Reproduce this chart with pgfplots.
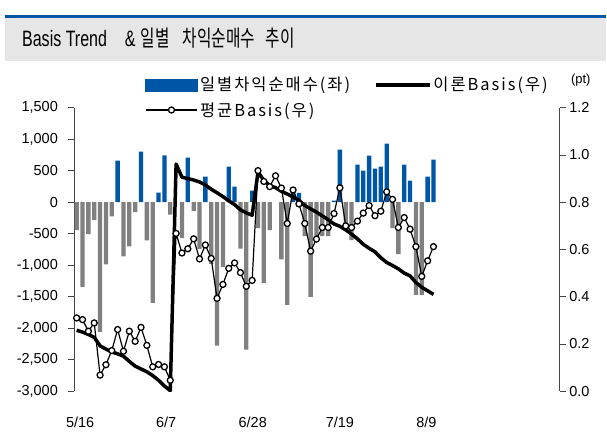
\documentclass[border=0pt]{standalone}
\usepackage{pgfplots}
\pgfplotsset{compat=1.18}
\usepackage{pgfplotstable}
\usepackage{fontspec}
\usepackage{graphicx}
\setmainfont{Liberation Sans}
\newfontfamily\kr{Noto Sans CJK KR}
\newfontfamily\krleg[LetterSpace=12]{Noto Sans CJK KR}
\definecolor{barblue}{RGB}{0,86,166}
\definecolor{bargray}{RGB}{128,128,128}
\definecolor{titlegray}{RGB}{230,230,230}
\definecolor{axisc}{RGB}{70,70,70}

\pgfplotstableread{
i theo avg
0 0.258 0.310
1 0.250 0.303
2 0.240 0.254
3 0.228 0.289
4 0.192 0.068
5 0.178 0.112
6 0.166 0.172
7 0.158 0.261
8 0.148 0.169
9 0.126 0.254
10 0.106 0.211
11 0.094 0.270
12 0.082 0.194
13 0.066 0.103
14 0.046 0.113
15 0.022 0.103
16 0.002 0.046
17 0.962 0.668
18 0.906 0.585
19 0.900 0.603
20 0.894 0.645
21 0.886 0.560
22 0.873 0.619
23 0.855 0.562
24 0.840 0.393
25 0.824 0.452
26 0.806 0.520
27 0.790 0.543
28 0.768 0.502
29 0.755 0.444
30 0.745 0.469
31 0.928 0.934
32 0.893 0.888
33 0.870 0.866
34 0.862 0.912
35 0.846 0.860
36 0.835 0.710
37 0.822 0.852
38 0.808 0.793
39 0.786 0.710
40 0.772 0.593
41 0.758 0.644
42 0.742 0.693
43 0.726 0.693
44 0.708 0.752
45 0.698 0.861
46 0.683 0.700
47 0.665 0.693
48 0.645 0.720
49 0.622 0.754
50 0.605 0.786
51 0.590 0.743
52 0.565 0.762
53 0.545 0.844
54 0.532 0.812
55 0.518 0.693
56 0.500 0.735
57 0.488 0.686
58 0.460 0.612
59 0.440 0.486
60 0.425 0.552
61 0.410 0.612
}\lines

\pgfplotsset{
  barleg/.style={legend image code/.code={\fill[barblue] (0pt,-6pt) rectangle (52pt,6pt);}},
  theoleg/.style={legend image code/.code={\draw[black, line width=3.5pt] (0pt,0pt) -- (54pt,0pt);}},
  avgleg/.style={legend image code/.code={\draw[black, line width=1.2pt, mark=*, mark size=3pt,
     mark options={fill=white, draw=black, line width=1.3pt}, mark repeat=2, mark phase=2]
     plot coordinates {(0pt,0pt) (26pt,0pt) (52pt,0pt)};}},
}

\begin{document}
\begin{tikzpicture}
\fill[white] (0pt,0pt) rectangle (607pt,432pt);
\fill[titlegray] (5pt,371pt) rectangle (607pt,414.5pt);
\draw[barblue, line width=2.6pt] (5pt,415.6pt) -- (607pt,415.6pt);
\node[anchor=base west, inner sep=0pt] at (22pt,385pt) {\scalebox{0.72}[1]{\fontsize{22.3}{26}\selectfont Basis Trend}};
\node[anchor=base west, inner sep=0pt] at (125pt,385pt) {\scalebox{0.72}[1]{\fontsize{22.3}{26}\selectfont \&}};
\node[anchor=base west, inner sep=0pt] at (141pt,385pt) {\scalebox{0.7}[1]{\kr\fontsize{22.5}{26}\selectfont 일별}};
\node[anchor=base west, inner sep=0pt] at (183pt,385pt) {\scalebox{0.7}[1]{\kr\fontsize{22.5}{26}\selectfont 차익순매수}};
\node[anchor=base west, inner sep=0pt] at (266pt,385pt) {\scalebox{0.7}[1]{\kr\fontsize{22.5}{26}\selectfont 추이}};
\node[font=\fontsize{13}{15}\selectfont, inner sep=0pt] at (582pt,352pt) {(pt)};

\begin{axis}[
  at={(74.5pt,40pt)}, anchor=south west,
  width=486.5pt, height=284pt, scale only axis,
  xmin=-0.4, xmax=82.6, ymin=-3000, ymax=1500,
  axis y line*=left, axis x line*=bottom,
  x axis line style={draw=none},
  y axis line style={draw=axisc, line width=0.8pt},
  xtick={0.6,15.3,30.1,45,59.8},
  xticklabels={5/16,6/7,6/28,7/19,8/9},
  major x tick style={draw=none},
  ytick={-3000,-2500,-2000,-1500,-1000,-500,0,500,1000,1500},
  yticklabels={{-3,000},{-2,500},{-2,000},{-1,500},{-1,000},{-500},{0},{500},{1,000},{1,500}},
  tick align=outside, major tick length=6pt,
  major y tick style={draw=axisc, line width=0.8pt},
  ticklabel style={font=\fontsize{14.5}{16}\selectfont},
  xticklabel style={yshift=-16pt},
  yticklabel style={xshift=-7pt},
]
\addplot[ybar, bar width=4.3pt, bar shift=0pt, fill=bargray, draw=none] coordinates {
(0,-443) (1,-1345) (2,-506) (3,-285) (4,-2057) (5,-986) (6,-226) (8,-859) (9,-701) (10,-158)
(12,-606) (13,-1598) (16,-195) (18,-570) (20,-142) (21,-740) (23,-980) (24,-2278) (25,-1025)
(28,-735) (29,-2342) (31,-411) (32,-1286) (33,-443) (35,-907) (36,-1630) (39,-540) (40,-1503)
(41,-633) (42,-540) (43,-540) (46,-411) (47,-601) (54,-411) (55,-823) (58,-1471) (59,-1471)};
\addplot[ybar, bar width=4.3pt, bar shift=0pt, fill=barblue, draw=none] coordinates {
(7,660) (11,802) (14,153) (15,744) (19,707) (22,407) (26,565) (27,248) (30,185) (37,185)
(38,150) (44,27) (45,834) (48,596) (49,502) (50,739) (51,534) (52,565) (53,929) (56,596)
(57,343) (60,407) (61,676)};
\end{axis}

\begin{axis}[
  at={(74.5pt,40pt)}, anchor=south west,
  width=486.5pt, height=284pt, scale only axis,
  xmin=-0.4, xmax=82.6, ymin=0, ymax=1.2,
  axis y line*=right, hide x axis,
  y axis line style={draw=axisc, line width=0.8pt},
  ytick={0,0.2,0.4,0.6,0.8,1.0,1.2},
  yticklabels={0.0,0.2,0.4,0.6,0.8,1.0,1.2},
  tick align=outside, major tick length=6pt,
  major y tick style={draw=axisc, line width=0.8pt},
  ticklabel style={font=\fontsize{14.5}{16}\selectfont},
  legend columns=2,
  legend cell align=left,
  legend style={at={(0.145,1.115)}, anchor=north west, draw=none, fill=none,
    inner sep=0pt, font=\krleg\fontsize{16.5}{18}\selectfont,
    /tikz/every even column/.append style={column sep=22pt},
    row sep=6pt},
]
\addlegendimage{barleg}
\addlegendentry{일별차익순매수(좌)}
\addplot[black, line width=3.5pt, line join=round, theoleg]
  table[x=i, y=theo] {\lines};
\addlegendentry{이론Basis(우)}
\addplot[black, line width=1.2pt, mark=*, mark size=3pt,
  mark options={fill=white, draw=black, line width=1.3pt}, avgleg]
  table[x=i, y=avg] {\lines};
\addlegendentry{평균Basis(우)}
\end{axis}
\end{tikzpicture}
\end{document}
